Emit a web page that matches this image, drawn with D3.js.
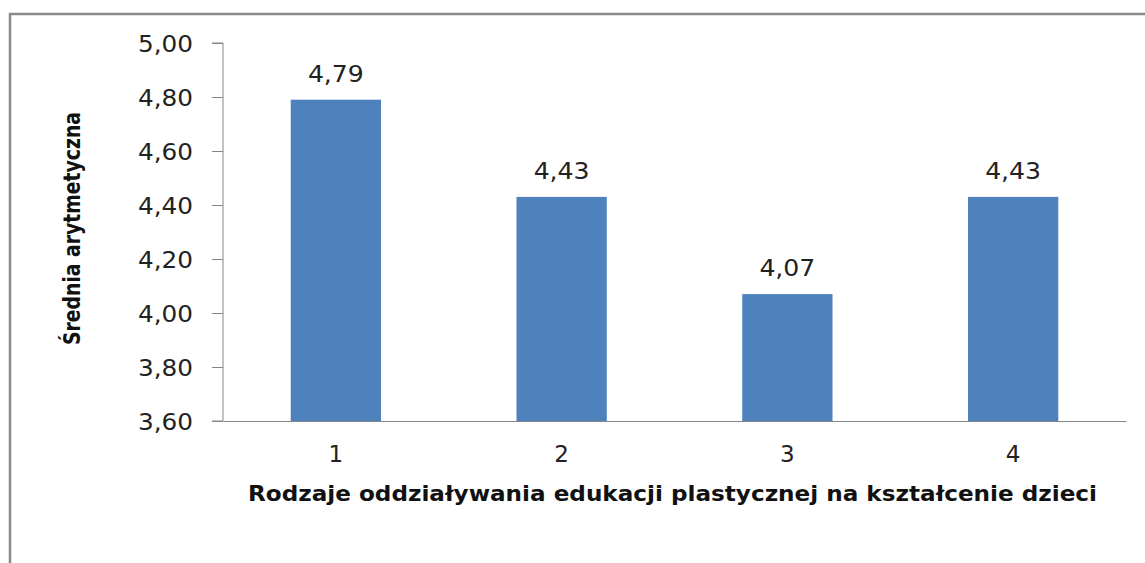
<!DOCTYPE html>
<html><head><meta charset="utf-8">
<script src="https://cdn.jsdelivr.net/npm/d3@7"></script>
<style>body{margin:0;background:#fff}svg{display:block}</style>
</head><body>
<script>
const categories = ["1","2","3","4"];
const values = [4.79, 4.43, 4.07, 4.43];
const valueLabels = ["4,79","4,43","4,07","4,43"];
const yTicks = [3.6,3.8,4.0,4.2,4.4,4.6,4.8,5.0];
const yTitle = "Średnia arytmetyczna";
const xTitle = "Rodzaje oddziaływania edukacji plastycznej na kształcenie dzieci";

(function(){
const W=1145,H=563;
const svg=d3.select("body").append("svg").attr("width",W).attr("height",H);
svg.append("rect").attr("width",W).attr("height",H).attr("fill","#fff");
svg.append("path").attr("d",`M10,${H} L10,14 L${W},14`).attr("fill","none").attr("stroke","#8a8a8a").attr("stroke-width",2.5);

const pL=223,pR=1126,pT=43,pB=421;
const x=d3.scaleBand().domain(categories).range([pL,pR]).paddingInner(0.6).paddingOuter(0.3);
const y=d3.scaleLinear().domain([3.6,5.0]).range([pB,pT]);

const fmt=d=>d3.format(".2f")(d).replace(".",",");
const ya=svg.append("g").attr("transform",`translate(${pL},0)`)
  .call(d3.axisLeft(y).tickValues(yTicks).tickFormat(fmt).tickSize(11).tickPadding(19));
ya.select(".domain").attr("stroke","#868686").attr("d",`M-11,${pT}H0V${pB}H-11`);
ya.selectAll(".tick line").attr("stroke","#868686");
ya.selectAll(".tick text").attr("font-family","DejaVu Sans").attr("font-size",23).attr("fill","#222")
  .attr("dy","0.37em").attr("textLength",55).attr("lengthAdjust","spacingAndGlyphs");

svg.selectAll(".bar").data(values).enter().append("rect")
  .attr("x",(d,i)=>x(categories[i])).attr("width",x.bandwidth())
  .attr("y",d=>y(d)).attr("height",d=>y(3.6)-y(d)).attr("fill","#4F81BD");

const xa=svg.append("g").attr("transform",`translate(0,${pB})`)
  .call(d3.axisBottom(x).tickSize(0));
xa.select(".domain").attr("stroke","#868686");
xa.selectAll(".tick text").attr("font-family","DejaVu Sans").attr("font-size",23).attr("fill","#222")
  .attr("y",41).attr("dy",0);

svg.selectAll(".vl").data(values).enter().append("text")
  .attr("x",(d,i)=>x(categories[i])+x.bandwidth()/2).attr("y",d=>y(d)-18)
  .attr("text-anchor","middle").attr("font-family","DejaVu Sans").attr("font-size",23).attr("fill","#222")
  .attr("textLength",56).attr("lengthAdjust","spacingAndGlyphs")
  .text((d,i)=>valueLabels[i]);

svg.append("text").attr("x",672.5).attr("y",501).attr("text-anchor","middle")
  .attr("font-family","DejaVu Sans").attr("font-weight","bold").attr("font-size",21).attr("fill","#111")
  .attr("textLength",849).attr("lengthAdjust","spacingAndGlyphs")
  .text(xTitle);
svg.append("text").attr("transform",`translate(80,228.5) rotate(-90)`).attr("text-anchor","middle")
  .attr("font-family","DejaVu Sans Condensed, DejaVu Sans").attr("font-weight","bold").attr("font-size",23).attr("fill","#111")
  .attr("textLength",233).attr("lengthAdjust","spacingAndGlyphs")
  .text(yTitle);
})();
</script>
</body></html>
